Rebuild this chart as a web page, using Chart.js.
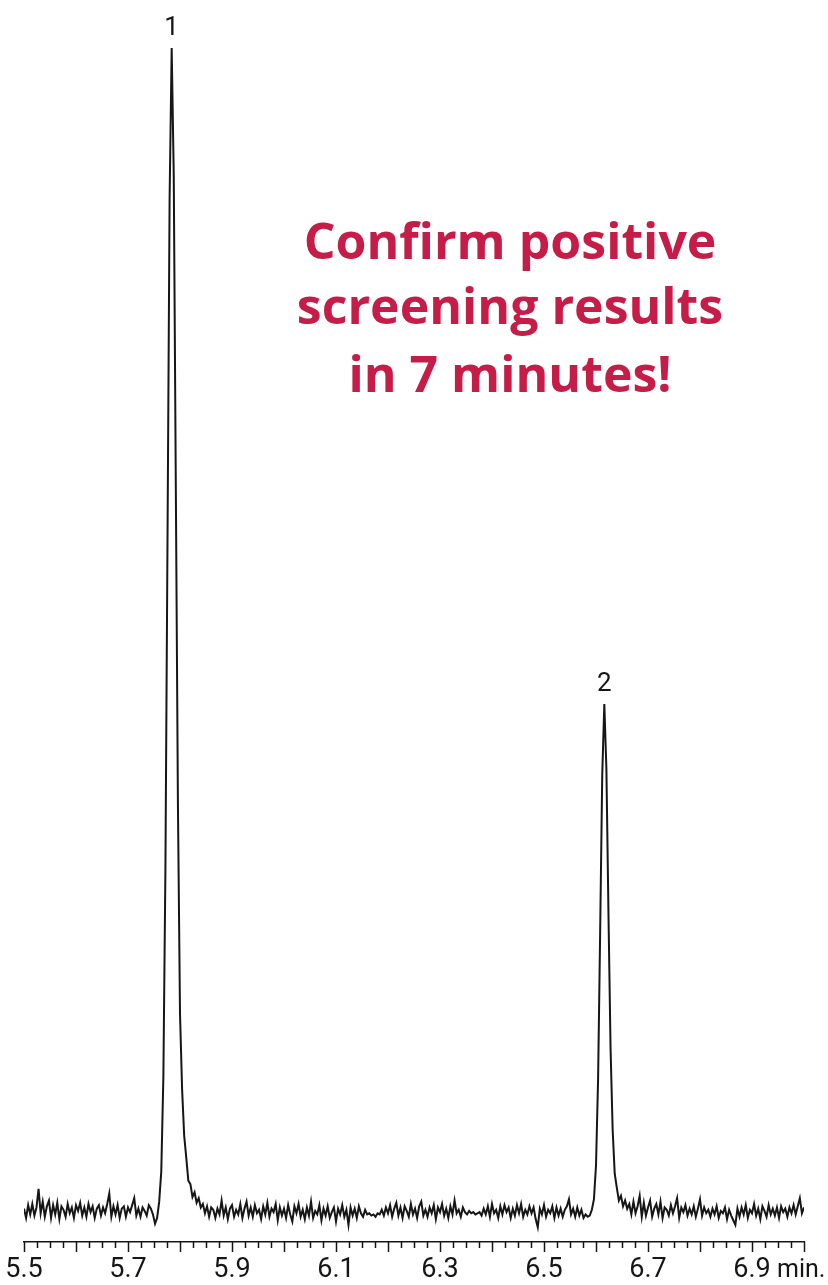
<!DOCTYPE html>
<html>
<head>
<meta charset="utf-8">
<title>Chromatogram</title>
<script src="https://cdn.jsdelivr.net/npm/chart.js@4/dist/chart.umd.min.js"></script>
<style>
  html, body { margin: 0; padding: 0; background: #fff; }
  #wrap { width: 828px; height: 1285px; }
</style>
</head>
<body>
<div id="wrap"><canvas id="chromChart" width="828" height="1285"></canvas></div>
<script>
// time axis (minutes)
const startTime = 5.5;
const endTime = 7.0;
const sampleStep = 0.004;
const minorStep = 0.025;
const tickLabels = ['5.5', '5.7', '5.9', '6.1', '6.3', '6.5', '6.7', '6.9'];
const unitLabel = 'min.';

// detector signal (peak 1 = 100)
const baselineA = [
  0.2, -0.6, 0.5, -0.3, 0.6, -0.4, 0.3, 1.9, -0.2, 0.8,
  -0.5, 0.4, 0.9, -0.6, 0.5, -0.3, 0.7, -0.7, 0.4, 0.1,
  -0.5, 0.6, -0.2, 0.3, -0.6, 0.5, 0.0, 0.7, -0.4, 0.3,
  -0.5, 0.6, -0.1, 0.4, -0.6, 0.2, 0.5, -0.4, 0.3, -0.2,
  0.6, 1.5, -0.5, 0.4, -0.3, 0.5, -0.6, 0.2, 0.4, -0.5,
  0.3, -0.1, 0.5, 1.1, -0.4, 0.2, -0.5, 0.3, 0.0, -0.4,
  0.5, 0.2, -0.3, -1.1
];
const peak1 = [
  -0.6, 0.8, 3.4, 11.5, 29.6, 58, 87, 100, 89, 62, 35,
  17, 10.5, 6.5, 4.6, 2.6, 2.3, 1.2, 1.6, 0.7, 1.1, 0.3
];
const baselineB = [
  0.6, -0.2, 0.4, -0.5, 0.3, 0.1, -0.6, 0.2, -0.3, 0.9,
  -0.4, 0.3, -0.7, 0.2, 0.5, -0.5, 0.1, -0.3, 0.6, -0.6,
  0.2, 0.8, -0.4, 0.3, -0.5, 0.5, -0.2, 0.1, -0.7, 0.4,
  -0.3, 0.7, -0.5, 0.2, -0.1, 0.6, -0.8, 0.3, -0.4, 0.2,
  -0.6, 0.5, -0.3, -0.9, 0.4, -0.2, 0.6, -0.5, 0.1, -0.7,
  0.3, -0.4, 0.8, -0.6, 0.0, -0.3, 0.5, -0.8, 0.2, -0.4,
  0.4, -0.6, -0.1, 0.3, -0.9, 0.2, -0.3, 0.5, -0.5, 0.1,
  -1.2, 0.3, -0.4, 0.2, -0.6, 0.4, -0.2, -0.5, 0.1, -0.3,
  -0.2, -0.4, -0.3, -0.5, -0.2, -0.3, 0.1, -0.4, 0.3, -0.2,
  0.5, -0.5, 0.2, 0.7, -0.4, 0.3, -0.6, 0.4, 0.0, -0.5,
  0.6, -0.3, 0.2, -0.6, 0.4, 0.8, -0.4, 0.1, -0.5, 0.3,
  -0.2, 0.5, -0.7, 0.3, -0.1, 0.6, -0.4, 0.2, -0.6, 0.4,
  -0.3, 0.9, -0.2, 0.1, -0.5, 0.3, -0.1, -0.3, 0.0, -0.2,
  -0.1, -0.3, -0.2, -0.1, -0.4, 0.2, -0.3, 0.4, -0.5, 0.6,
  -0.2, 0.1, -0.6, 0.4, -0.3, 0.5, -0.1, 0.3, -0.6, 0.2,
  -0.4, 0.5, -0.2, 0.6, -0.5, 0.1, -0.3, 0.4, -0.2, 0.3,
  -0.7, -1.4, 0.2, -0.3, 0.5, -0.5, 0.1, -0.2, 0.4, -0.6,
  0.3, -0.4, 0.2, -0.5, 0.1, 0.4, 1.0, -0.3, 0.2, -0.5,
  0.3, -0.4, 0.1, -0.6, -0.3, -0.5
];
const peak2 = [
  -0.4, 0.1, 1.0, 3.9, 11.3, 24, 37.5, 43.6, 38, 25.5,
  14, 7, 3.2, 2.0, 0.9, 1.3, 0.4, 0.9, 0.2
];
const baselineC = [
  0.6, -0.3, 0.8, -0.2, 0.4, 1.3, -0.5, 0.7, -0.4, 0.3,
  0.9, -0.5, 0.2, 0.6, -0.3, 0.8, -0.6, 0.3, 0.1, -0.4,
  0.5, -0.2, 0.4, 1.1, -0.6, 0.3, -0.1, 0.5, -0.4, 0.2,
  -0.3, 0.4, -0.5, 0.2, 1.0, -0.4, 0.3, -0.2, 0.1, -0.5,
  0.2, -0.3, 0.4, -0.6, 0.0, -0.2, 0.3, -0.7, 0.1, -0.4,
  -0.8, -1.2, 0.2, -0.5, 0.3, -0.3, 0.5, -0.6, 0.1, -0.2,
  0.6, -0.4, 0.2, -0.7, 0.4, 0.0, -0.5, 0.5, -0.3, 0.2,
  -0.4, 0.3, -0.6, 0.4, -0.1, 0.2, -0.5, 0.3, -0.2, 0.5,
  -0.3, 0.4, 1.1, -0.2, 0.3
];

const peakTimes = [5.784, 6.616];
const peakNames = ['1', '2'];

const headline = ['Confirm positive', 'screening results', 'in 7 minutes!'];

const signal = [].concat(baselineA, peak1, baselineB, peak2, baselineC);
const points = signal.map((v, i) => ({ x: startTime + i * sampleStep, y: v }));

const INK = '#161616';
const FONT_FAMILY = 'Roboto, "Liberation Sans", sans-serif';

function stepIndex(v) {
    return Math.round((v - startTime) / minorStep);
}

// minor / major ticks, peak numbers, unit and headline
const decorPlugin = {
    id: 'decor',
    afterDraw(chart) {
        const ctx = chart.ctx;
        const xs = chart.scales.x;
        const ys = chart.scales.y;

        ctx.save();
        ctx.strokeStyle = INK;
        ctx.lineWidth = 1.5;
        xs.ticks.forEach(t => {
            const px = Math.round(xs.getPixelForValue(t.value)) + 0.5;
            const len = stepIndex(t.value) % 4 === 0 ? 10 : 6;
            ctx.beginPath();
            ctx.moveTo(px, xs.top);
            ctx.lineTo(px, xs.top + len);
            ctx.stroke();
        });

        // unit after the last label
        ctx.fillStyle = INK;
        ctx.font = '25px ' + FONT_FAMILY;
        ctx.textAlign = 'left';
        ctx.textBaseline = 'alphabetic';
        const lastLabel = parseFloat(tickLabels[tickLabels.length - 1]);
        ctx.fillText(unitLabel, xs.getPixelForValue(lastLabel) + 25, 1277);

        // peak numbers above the apex
        ctx.font = '26px ' + FONT_FAMILY;
        ctx.textAlign = 'center';
        peakTimes.forEach((t, n) => {
            const i = Math.round((t - startTime) / sampleStep);
            const px = xs.getPixelForValue(points[i].x);
            const py = ys.getPixelForValue(points[i].y);
            ctx.fillText(peakNames[n], px, py - 13);
        });

        // headline
        ctx.fillStyle = '#c51d48';
        ctx.font = 'bold 50px "Open Sans", "Noto Sans", sans-serif';
        const baselines = [259, 324, 392];
        headline.forEach((line, n) => ctx.fillText(line, 510, baselines[n]));
        ctx.restore();
    }
};

new Chart(document.getElementById('chromChart'), {
    type: 'line',
    data: {
        datasets: [{
            data: points,
            borderColor: INK,
            borderWidth: 2,
            pointRadius: 0,
            tension: 0,
            fill: false
        }]
    },
    options: {
        responsive: false,
        animation: false,
        devicePixelRatio: 1,
        layout: { padding: { left: 24, right: 24, top: 10, bottom: 0 } },
        plugins: { legend: { display: false }, tooltip: { enabled: false } },
        scales: {
            x: {
                type: 'linear',
                min: startTime,
                max: endTime,
                afterFit: s => {
                    s.height = 43;
                    s.paddingLeft = 0;
                    s.paddingRight = 0;
                },
                grid: { display: true, drawOnChartArea: false, drawTicks: false },
                border: { display: true, color: INK, width: 1.5 },
                ticks: {
                    stepSize: minorStep,
                    autoSkip: false,
                    maxRotation: 0,
                    padding: 12,
                    color: INK,
                    font: { family: FONT_FAMILY, size: 27 },
                    callback: v => {
                        const k = stepIndex(v);
                        return k % 8 === 0 && k / 8 < tickLabels.length ? tickLabels[k / 8] : '';
                    }
                }
            },
            y: { display: false, min: -2.67, max: 103.27 }
        }
    },
    plugins: [decorPlugin]
});
</script>
</body>
</html>
